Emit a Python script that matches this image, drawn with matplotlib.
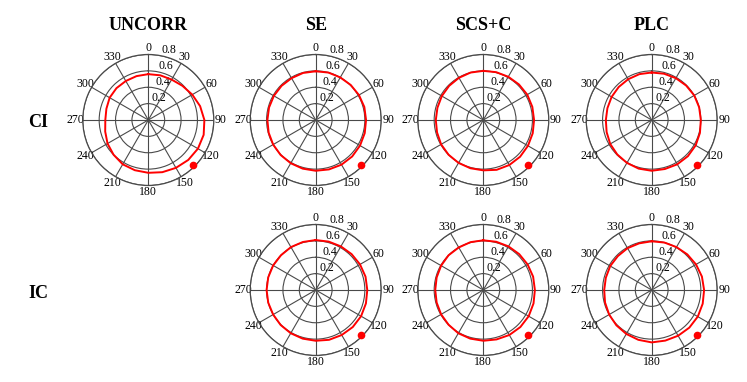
import numpy as np
import matplotlib
matplotlib.use("Agg")
import matplotlib.pyplot as plt

angles_deg = [0, 15, 30, 45, 60, 75, 90, 105, 120, 135, 150, 165,
              180, 195, 210, 225, 240, 255, 270, 285, 300, 315, 330, 345]
col_titles = ["UNCORR", "SE", "SCS+C", "PLC"]
row_labels = ["CI", "IC"]
theta_ticks = [0, 30, 60, 90, 120, 150, 180, 210, 240, 270, 300, 330]
r_ticks = [0.2, 0.4, 0.6, 0.8]
sun_theta_deg = 135
sun_r = 0.78

ci_uncorr = [0.56, 0.565, 0.57, 0.59, 0.62, 0.655, 0.685, 0.70, 0.70, 0.69, 0.675, 0.66,
             0.645, 0.635, 0.625, 0.60, 0.575, 0.545, 0.525, 0.53, 0.545, 0.55, 0.55, 0.555]
ci_se = [0.595, 0.60, 0.60, 0.605, 0.61, 0.615, 0.615, 0.62, 0.625, 0.63, 0.63, 0.625,
         0.62, 0.615, 0.61, 0.605, 0.60, 0.595, 0.59, 0.59, 0.59, 0.59, 0.59, 0.595]
ci_scsc = [0.60, 0.605, 0.61, 0.615, 0.62, 0.62, 0.62, 0.625, 0.63, 0.635, 0.635, 0.63,
           0.615, 0.61, 0.605, 0.60, 0.595, 0.585, 0.58, 0.58, 0.585, 0.59, 0.595, 0.60]
ci_plc = [0.58, 0.585, 0.59, 0.595, 0.60, 0.60, 0.60, 0.61, 0.62, 0.625, 0.625, 0.62,
          0.62, 0.615, 0.605, 0.595, 0.585, 0.57, 0.56, 0.56, 0.565, 0.57, 0.575, 0.58]
ic_se = [0.61, 0.612, 0.615, 0.62, 0.625, 0.63, 0.63, 0.635, 0.64, 0.64, 0.635, 0.63,
         0.62, 0.615, 0.61, 0.605, 0.60, 0.60, 0.60, 0.60, 0.60, 0.60, 0.605, 0.607]
ic_scsc = [0.607, 0.61, 0.615, 0.62, 0.625, 0.63, 0.63, 0.635, 0.64, 0.64, 0.635, 0.625,
           0.62, 0.615, 0.61, 0.60, 0.595, 0.59, 0.587, 0.59, 0.595, 0.60, 0.60, 0.605]
ic_plc = [0.595, 0.60, 0.605, 0.615, 0.625, 0.635, 0.64, 0.645, 0.65, 0.65, 0.645, 0.64,
          0.64, 0.63, 0.62, 0.61, 0.60, 0.59, 0.58, 0.58, 0.585, 0.585, 0.59, 0.59]

grid_series = [[ci_uncorr, ci_se, ci_scsc, ci_plc],
               [None, ic_se, ic_scsc, ic_plc]]

plt.rcParams['font.family'] = ['Liberation Serif', 'DejaVu Serif']

W, H = 747, 382
fig = plt.figure(figsize=(W / 100, H / 100), dpi=100)

col_cx = [148.3, 315.7, 483.3, 651.7]
row_cy = [120, 290]
rad = 65.5
gc = '#4a4a4a'

for ri in range(2):
    for ci in range(4):
        vals = grid_series[ri][ci]
        if vals is None:
            continue
        cx, cy = col_cx[ci], row_cy[ri]
        ax = fig.add_axes([(cx - rad) / W, (H - cy - rad) / H, 2 * rad / W, 2 * rad / H],
                          projection='polar')
        ax.set_theta_zero_location('N')
        ax.set_theta_direction(-1)
        th = np.deg2rad(angles_deg + [angles_deg[0]])
        rr = list(vals) + [vals[0]]
        ax.plot(th, rr, color='#ff0000', lw=1.4, zorder=3)
        ax.plot([np.deg2rad(sun_theta_deg)], [sun_r], 'o', color='#ff0000', ms=4.5, zorder=4,
                clip_on=False)
        ax.set_ylim(0, 0.8)
        ax.set_yticks(r_ticks)
        ax.set_yticklabels([f"{v:.1f}" for v in r_ticks], fontsize=8.5)
        ax.set_xticks(np.deg2rad(theta_ticks))
        ax.set_xticklabels([str(t) for t in theta_ticks], fontsize=8.5)
        ax.set_rlabel_position(12)
        ax.tick_params(axis='x', pad=-2, length=0)
        ax.grid(True, color=gc, lw=0.8)
        ax.spines['polar'].set_color(gc)
        ax.spines['polar'].set_linewidth(0.9)
        ax.set_facecolor('none')

for ci, t in enumerate(col_titles):
    fig.text(col_cx[ci] / W, 1 - 25 / H, t, ha='center', va='center',
             fontsize=13, fontweight='bold')
for ri, t in enumerate(row_labels):
    fig.text(38 / W, 1 - (row_cy[ri] + 3) / H, t, ha='center', va='center',
             fontsize=13, fontweight='bold')

fig.savefig('out.png', dpi=100)
